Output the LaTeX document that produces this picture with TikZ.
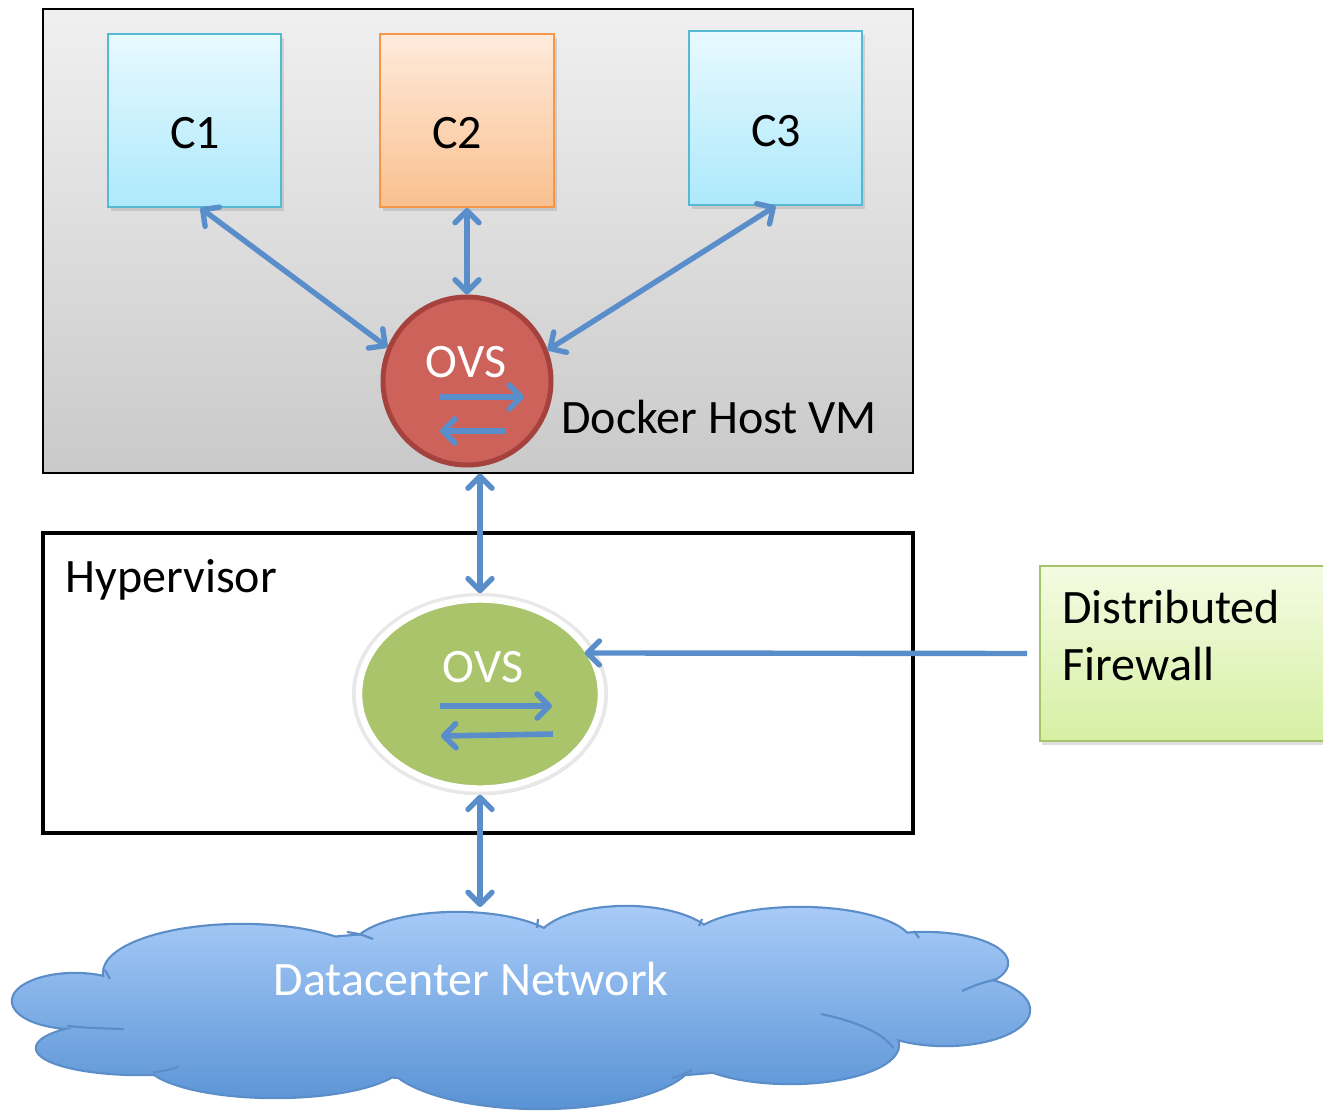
\documentclass[tikz,border=0pt]{standalone}
\usepackage{fontspec}
\setmainfont{Carlito}
\usetikzlibrary{arrows.meta,shapes.geometric,calc,shadows}
\definecolor{arrowblue}{HTML}{5A8ECB}
\definecolor{cyanborder}{HTML}{56B9D4}
\definecolor{cyantop}{HTML}{E8F9FF}
\definecolor{cyanbot}{HTML}{ADE9FB}
\definecolor{orangeborder}{HTML}{F79646}
\definecolor{orangetop}{HTML}{FFEBDC}
\definecolor{orangebot}{HTML}{FAC08F}
\definecolor{redfill}{HTML}{CD625A}
\definecolor{redborder}{HTML}{A6423D}
\definecolor{greenfill}{HTML}{AAC46C}
\definecolor{fwtop}{HTML}{F4FBE2}
\definecolor{fwbot}{HTML}{D6F0A4}
\definecolor{fwborder}{HTML}{A3C468}
\definecolor{cloudtop}{HTML}{A8CBF8}
\definecolor{cloudbot}{HTML}{5993D5}
\definecolor{cloudline}{HTML}{5B8DC8}
\begin{document}
\begin{tikzpicture}[x=0.5pt,y=-0.5pt,
  big/.style={font=\fontsize{24}{28}\selectfont,inner sep=0pt},
  arr/.style={draw=arrowblue,line width=2.7pt,
    {Straight Barb[length=6pt,width=12pt,round]}-{Straight Barb[length=6pt,width=12pt,round]}},
  arrone/.style={draw=arrowblue,line width=2.7pt,-{Straight Barb[length=6pt,width=12pt,round]}},
  inarr/.style={draw=arrowblue,line width=2.8pt,-{Straight Barb[length=6pt,width=12pt,round]}},
  cbox/.style={rectangle,inner sep=0pt,line width=1pt,
    drop shadow={opacity=0.25,shadow xshift=1.5pt,shadow yshift=-2pt}},
  shadowsoft/.style={drop shadow={opacity=0.25,shadow xshift=1pt,shadow yshift=-2pt}}]
\useasboundingbox (0,0) rectangle (1323,1110);

% Docker host VM
\node[rectangle,inner sep=0pt,draw=black,line width=0.8pt,
  top color=black!6,bottom color=black!21,
  minimum width=435pt,minimum height=232pt] (docker) at (478,241) {};

% Containers
\node[cbox,draw=cyanborder,top color=cyantop,bottom color=cyanbot,
  minimum width=86.5pt,minimum height=86.5pt] (c1) at (194.5,120.5) {};
\node[cbox,draw=orangeborder,top color=orangetop,bottom color=orangebot,
  minimum width=87pt,minimum height=86.5pt] (c2) at (467,120.5) {};
\node[cbox,draw=cyanborder,top color=cyantop,bottom color=cyanbot,
  minimum width=86.5pt,minimum height=87pt] (c3) at (775.5,118) {};
\node[big,anchor=base] (c1t) at (195,148) {C1};
\node[big,anchor=base] (c2t) at (457,148) {C2};
\node[big,anchor=base] (c3t) at (776,146) {C3};

% OVS in docker host
\node[circle,draw=redborder,fill=redfill,line width=2.5pt,inner sep=0pt,
  minimum size=84pt] (ovs1) at (467,381) {};
\node[big,anchor=base,text=white] (ovs1t) at (466,377) {OVS};
\draw[inarr] ($(ovs1)+(-27,16)$) -- ($(ovs1)+(57,16)$);
\draw[inarr] ($(ovs1)+(39,50)$) -- ($(ovs1)+(-27,50)$);
\node[big,anchor=base west] (dhv) at (561,433) {Docker Host VM};

% Hypervisor
\node[rectangle,inner sep=0pt,draw=black,line width=2pt,fill=white,
  minimum width=435pt,minimum height=150pt] (hyp) at (478,683) {};
\node[big,anchor=base west] (hypt) at (65,592) {Hypervisor};

\fill[black!22] (481,695.5) ellipse [x radius=126,y radius=99.5];
\fill[black!9] (480,694) ellipse [x radius=128,y radius=101];
\node[ellipse,draw=white,fill=greenfill,line width=3.2pt,inner sep=0pt,
  minimum width=121pt,minimum height=94.5pt] (ovs2) at (480,694) {};
\node[big,anchor=base,text=white] (ovs2t) at (483,682) {OVS};
\draw[inarr] ($(ovs2)+(-40,12)$) -- ($(ovs2)+(72,12)$);
\draw[inarr] ($(ovs2)+(73,40)$) -- ($(ovs2)+(-39,42)$);

% Distributed firewall
\node[rectangle,inner sep=0pt,draw=fwborder,line width=1pt,
  top color=fwtop,bottom color=fwbot,
  minimum width=145pt,minimum height=87.5pt,shadowsoft] (fw) at (1185,653.5) {};
\node[big,anchor=base west] (fwt1) at (1062,623) {Distributed};
\node[big,anchor=base west] (fwt2) at (1062,680) {Firewall};

% Cloud
\def\cloudshape{
  (242,973) ellipse [x radius=138,y radius=48]
  (75,1001) ellipse [x radius=62,y radius=27]
  (140,1048) ellipse [x radius=103,y radius=26]
  (275,1060) ellipse [x radius=130,y radius=37]
  (540,1055) ellipse [x radius=155,y radius=53]
  (790,1045) ellipse [x radius=108,y radius=38]
  (945,1010) ellipse [x radius=84,y radius=35]
  (925,963) ellipse [x radius=82,y radius=30]
  (800,945) ellipse [x radius=112,y radius=37]
  (626,945) ellipse [x radius=90,y radius=38]
  (457,950) ellipse [x radius=105,y radius=37]
  (520,1005) ellipse [x radius=420,y radius=75]
}
\draw[draw=cloudline,line width=2.2pt] \cloudshape;
\shade[top color=cloudtop,bottom color=cloudbot] \cloudshape;
\draw[cloudline,line width=1.1pt]
  (962,991) .. controls (978,984) .. (997,979)
  (821,1014) .. controls (860,1022) and (885,1035) .. (893,1048)
  (67,1026) .. controls (90,1028) .. (124,1029)
  (347,932) .. controls (360,934) .. (373,939)
  (538,919) .. controls (538,923) .. (537,928)
  (702,919) .. controls (700,922) .. (699,926)
  (914,931) .. controls (917,934) .. (919,938)
  (105,970) .. controls (107,974) .. (110,979)
  (153,1072) .. controls (165,1071) .. (178,1067)
  (672,1078) .. controls (682,1075) .. (692,1070);
\node[big,anchor=base,text=white] (dcn) at (471,995) {Datacenter Network};
\coordinate (cloudtopc) at (480,907);

% Connectors
\draw[arr] ([xshift=3pt]c1.south) -- (ovs1.157);
\draw[arr] (c2.south) -- (ovs1.north);
\draw[arr] (c3.south) -- (ovs1.21);
\draw[arr] (ovs2.north |- ovs1.south) ++(0,6) -- ([yshift=1.5pt]ovs2.north);
\draw[arr] ([yshift=-1.5pt]ovs2.south) -- (cloudtopc);
\draw[arrone,shorten <=6pt,shorten >=-4pt] (fw.west) -- (ovs2.20);
\end{tikzpicture}
\end{document}
